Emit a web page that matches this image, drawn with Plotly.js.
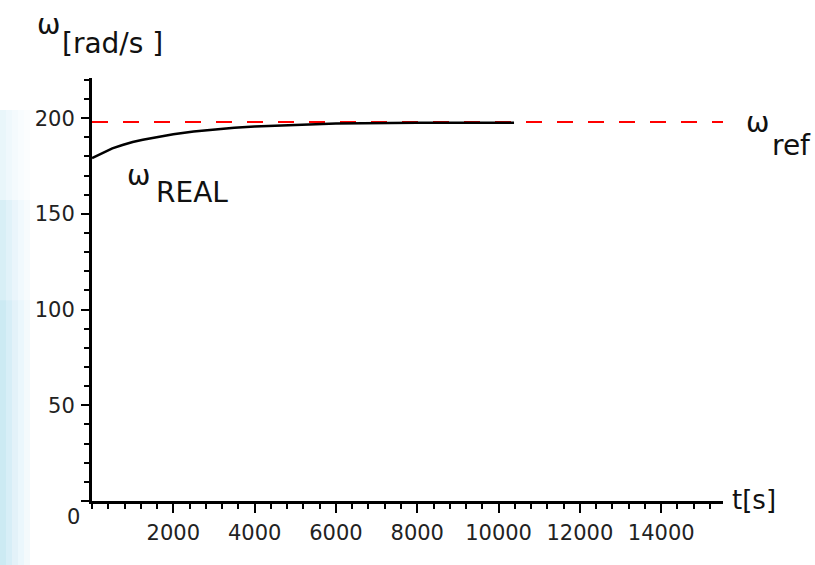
<!DOCTYPE html>
<html>
<head>
<meta charset="utf-8">
<script src="https://cdn.plot.ly/plotly-3.0.1.min.js"></script>
<style>
html,body{margin:0;padding:0;background:#fff;}
#chart{width:815px;height:565px;}
</style>
</head>
<body>
<div id="chart"></div>
<script>
// ---- data ----
const tReal = [0, 250, 500, 750, 1000, 1250, 1500, 2000, 2500, 3000, 3500, 4000, 4500, 5000, 5500, 6000, 7000, 8000, 9000, 10000, 10380];
const omegaReal = [179.2, 181.8, 184.2, 186.0, 187.6, 188.7, 189.8, 191.6, 193.0, 194.2, 195.0, 195.6, 196.1, 196.5, 196.9, 197.2, 197.5, 197.6, 197.6, 197.6, 197.6];
const tRef = [0, 15520];
const omegaRef = [198, 198];
const xTickVals = [2000, 4000, 6000, 8000, 10000, 12000, 14000];
const xTickText = ['2000', '4000', '6000', '8000', '10000', '12000', '14000'];
const yTickVals = [0, 50, 100, 150, 200];
const yTickText = ['', '50', '100', '150', '200'];

// ---- geometry helpers (pixel -> paper) ----
const L = 92, R = 723, T = 78, B = 500.7;
const px = x => (x - L) / (R - L);
const py = y => (B - y) / (B - T);

const FONT = 'DejaVu Sans';
const tickFont = {family: FONT, size: 21, color: '#222'};

function ann(text, x, y, size, xanchor) {
  return {text: text, xref: 'paper', yref: 'paper', x: px(x), y: py(y),
    xanchor: xanchor || 'center', yanchor: 'middle', showarrow: false,
    font: {family: FONT, size: size, color: '#111'}};
}

// soft left-edge background glow
const glow = [];
const bands = [[0, 6, 0.30], [6, 12, 0.22], [12, 18, 0.15], [18, 24, 0.09], [24, 30, 0.05]];
const tops = [[110, 0.35], [200, 0.35], [300, 0.3]];
bands.forEach(b => {
  tops.forEach(tp => {
    glow.push({type: 'rect', xref: 'paper', yref: 'paper', x0: px(b[0]), x1: px(b[1]),
      y0: py(565), y1: py(tp[0]), line: {width: 0},
      fillcolor: 'rgba(160,215,235,' + (b[2] * tp[1] * 2.2).toFixed(3) + ')', layer: 'below'});
  });
});

const traces = [
  {x: tRef, y: omegaRef, mode: 'lines', line: {color: '#ff0000', width: 2.2, dash: '16px,15px'}, hoverinfo: 'skip'},
  {x: tReal, y: omegaReal, mode: 'lines', line: {color: '#000000', width: 2.5}, hoverinfo: 'skip'}
];

const layout = {
  width: 815, height: 565,
  margin: {l: L, r: 815 - R, t: T, b: 565 - B},
  paper_bgcolor: '#ffffff', plot_bgcolor: '#ffffff',
  showlegend: false,
  xaxis: {
    range: [0, 15520], showgrid: false, zeroline: false,
    showline: true, linecolor: '#000', linewidth: 3,
    tickmode: 'array', tickvals: xTickVals, ticktext: xTickText,
    ticks: 'outside', ticklen: 9, tickwidth: 2, tickcolor: '#000',
    ticklabelstandoff: 2,
    tickfont: tickFont,
    minor: {tick0: 0, dtick: 400, ticks: 'outside', ticklen: 5, tickwidth: 2, tickcolor: '#000'}
  },
  yaxis: {
    range: [0, 221], showgrid: false, zeroline: false,
    showline: true, linecolor: '#000', linewidth: 3,
    tickmode: 'array', tickvals: yTickVals, ticktext: yTickText,
    ticks: 'outside', ticklen: 8, tickwidth: 2, tickcolor: '#000',
    ticklabelstandoff: 2,
    tickfont: tickFont,
    minor: {tick0: 0, dtick: 10, ticks: 'outside', ticklen: 5, tickwidth: 2, tickcolor: '#000'}
  },
  shapes: glow,
  annotations: [
    ann('ω', 48, 25, 28),
    ann('[rad/s ]', 112.5, 44, 28),
    ann('ω', 138.5, 175, 28),
    ann('REAL', 191.5, 192, 28),
    ann('ω', 757, 122, 28),
    ann('ref', 791.5, 145, 28),
    ann('t[s]', 753.5, 500, 26),
    {text: '0', xref: 'paper', yref: 'paper', x: px(73.5), y: py(516.5), xanchor: 'center', yanchor: 'middle', showarrow: false, font: tickFont}
  ]
};

Plotly.newPlot('chart', traces, layout, {staticPlot: true, displayModeBar: false});
</script>
</body>
</html>
